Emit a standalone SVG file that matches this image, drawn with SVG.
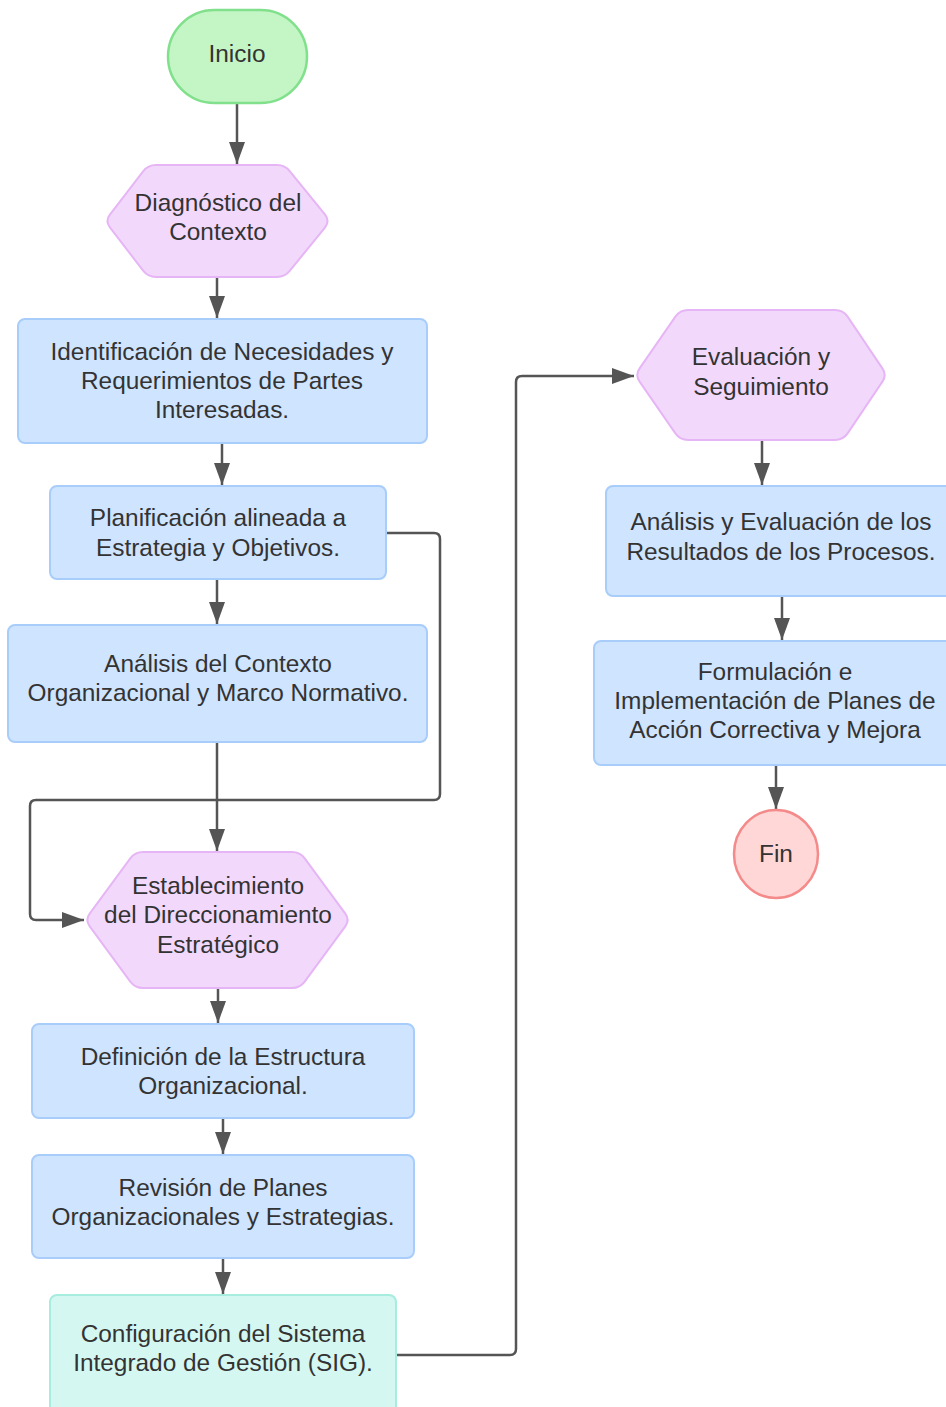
<svg xmlns="http://www.w3.org/2000/svg" width="946" height="1407" viewBox="0 0 946 1407">
  <style>
    text { font-family: "Liberation Sans", Arial, sans-serif; font-size: 24.4px; fill: #333333; text-anchor: middle; }
    .box { fill: #cfe4ff; stroke: #a8cdfa; stroke-width: 2; }
    .hex { fill: #f2d9fc; stroke: #e6b5f5; stroke-width: 2; }
    .start { fill: #c4f5c4; stroke: #80e08c; stroke-width: 2.5; }
    .end { fill: #ffd7d7; stroke: #f48a8a; stroke-width: 2.5; }
    .sys { fill: #d5f7f1; stroke: #a6ecdf; stroke-width: 2; }
    .edge { fill: none; stroke: #555555; stroke-width: 2.5; marker-end: url(#arrow); }
  </style>
  <defs>
    <marker id="arrow" markerUnits="userSpaceOnUse" viewBox="0 0 22 16" markerWidth="22" markerHeight="16" refX="22" refY="8" orient="auto">
      <path d="M0,0 L22,8 L0,16 Z" fill="#555555"/>
    </marker>
  </defs>
  <rect width="946" height="1407" fill="#ffffff"/>

  <!-- connectors -->
  <g id="connectors">
    <path class="edge" d="M237,104 L237,164"/>
    <path class="edge" d="M217,278 L217,318"/>
    <path class="edge" d="M222,444 L222,485"/>
    <path class="edge" d="M217,580 L217,624"/>
    <path class="edge" d="M217,743 L217,851"/>
    <path class="edge" d="M386,533 L434,533 Q440,533 440,539 L440,794 Q440,800 434,800 L36,800 Q30,800 30,806 L30,914 Q30,920 36,920 L84,920"/>
    <path class="edge" d="M218,989 L218,1023"/>
    <path class="edge" d="M223,1119 L223,1154"/>
    <path class="edge" d="M223,1259 L223,1294"/>
    <path class="edge" d="M396,1355 L510,1355 Q516,1355 516,1349 L516,382 Q516,376 522,376 L634,376"/>
    <path class="edge" d="M762,441 L762,485"/>
    <path class="edge" d="M782,597 L782,640"/>
    <path class="edge" d="M776,766 L776,809"/>
  </g>

  <g id="inicio">
    <rect class="start" x="168" y="10" width="139" height="93" rx="46.5"/>
    <text x="237" y="62">Inicio</text>
  </g>

  <g id="diagnostico">
    <path class="hex" d="M109.9,214.7 L143.1,171.3 Q148,165 156,165 L277,165 Q285,165 289.9,171.3 L325.1,214.7 Q330,221 325.1,227.3 L289.9,270.7 Q285,277 277,277 L156,277 Q148,277 143.1,270.7 L109.9,227.3 Q105,221 109.9,214.7 Z"/>
    <text x="218" y="211">Diagnóstico del</text>
    <text x="218" y="240">Contexto</text>
  </g>

  <g id="identificacion">
    <rect class="box" x="18" y="319" width="409" height="124" rx="7"/>
    <text x="222" y="360">Identificación de Necesidades y</text>
    <text x="222" y="389">Requerimientos de Partes</text>
    <text x="222" y="418">Interesadas.</text>
  </g>

  <g id="planificacion">
    <rect class="box" x="50" y="486" width="336" height="93" rx="7"/>
    <text x="218" y="526">Planificación alineada a</text>
    <text x="218" y="556">Estrategia y Objetivos.</text>
  </g>

  <g id="analisis-contexto">
    <rect class="box" x="8" y="625" width="419" height="117" rx="7"/>
    <text x="218" y="672">Análisis del Contexto</text>
    <text x="218" y="701">Organizacional y Marco Normativo.</text>
  </g>

  <g id="direccionamiento">
    <path class="hex" d="M89.7,913.6 L130.3,858.4 Q135,852 143,852 L292,852 Q300,852 304.7,858.4 L345.3,913.6 Q350,920 345.3,926.4 L304.7,981.6 Q300,988 292,988 L143,988 Q135,988 130.3,981.6 L89.7,926.4 Q85,920 89.7,913.6 Z"/>
    <text x="218" y="894">Establecimiento</text>
    <text x="218" y="923">del Direccionamiento</text>
    <text x="218" y="953">Estratégico</text>
  </g>

  <g id="estructura">
    <rect class="box" x="32" y="1024" width="382" height="94" rx="7"/>
    <text x="223" y="1065">Definición de la Estructura</text>
    <text x="223" y="1094">Organizacional.</text>
  </g>

  <g id="revision">
    <rect class="box" x="32" y="1155" width="382" height="103" rx="7"/>
    <text x="223" y="1196">Revisión de Planes</text>
    <text x="223" y="1225">Organizacionales y Estrategias.</text>
  </g>

  <g id="sig">
    <rect class="sys" x="50" y="1295" width="346" height="130" rx="7"/>
    <text x="223" y="1342">Configuración del Sistema</text>
    <text x="223" y="1371">Integrado de Gestión (SIG).</text>
  </g>

  <g id="evaluacion">
    <path class="hex" d="M639.6,368.4 L675.4,316.6 Q680,310 688,310 L835,310 Q843,310 847.6,316.6 L882.4,368.4 Q887,375 882.4,381.6 L847.6,433.4 Q843,440 835,440 L688,440 Q680,440 675.4,433.4 L639.6,381.6 Q635,375 639.6,368.4 Z"/>
    <text x="761" y="365">Evaluación y</text>
    <text x="761" y="395">Seguimiento</text>
  </g>

  <g id="resultados">
    <rect class="box" x="606" y="486" width="360" height="110" rx="7"/>
    <text x="781" y="530">Análisis y Evaluación de los</text>
    <text x="781" y="560">Resultados de los Procesos.</text>
  </g>

  <g id="mejora">
    <rect class="box" x="594" y="641" width="370" height="124" rx="7"/>
    <text x="775" y="680">Formulación e</text>
    <text x="775" y="709">Implementación de Planes de</text>
    <text x="775" y="738">Acción Correctiva y Mejora</text>
  </g>

  <g id="fin">
    <ellipse class="end" cx="776" cy="854" rx="42" ry="44"/>
    <text x="776" y="862">Fin</text>
  </g>
</svg>
